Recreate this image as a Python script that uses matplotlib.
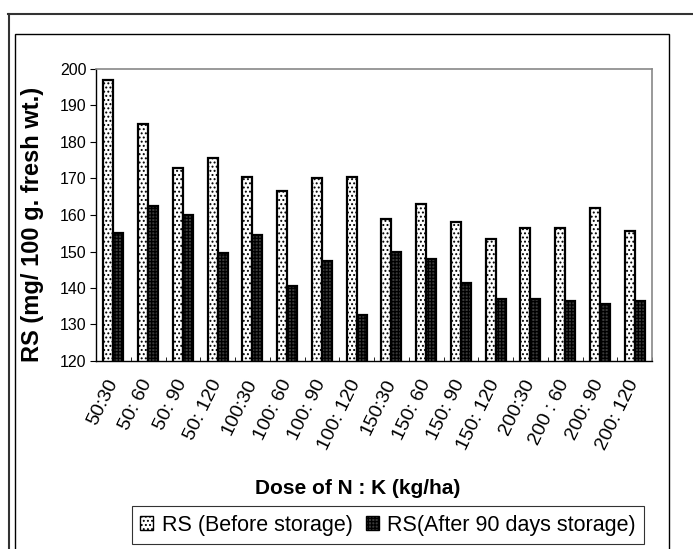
import matplotlib
matplotlib.use("Agg")
import matplotlib.pyplot as plt
import numpy as np
from matplotlib.patches import Rectangle, Patch
from matplotlib.lines import Line2D

plt.rcParams['font.family'] = ['Liberation Sans', 'DejaVu Sans']
plt.rcParams['hatch.linewidth'] = 0.9

doses = ['50:30', '50: 60', '50: 90', '50: 120', '100:30', '100: 60', '100: 90', '100: 120',
         '150:30', '150: 60', '150: 90', '150: 120', '200:30', '200 : 60', '200: 90', '200: 120']
rs_before = [197, 185, 173, 175.5, 170.5, 166.5, 170, 170.5,
             159, 163, 158, 153.5, 156.5, 156.5, 162, 155.5]
rs_after = [155, 162.5, 160, 149.5, 154.5, 140.5, 147.5, 132.5,
            150, 148, 141.5, 137, 137, 136.5, 135.5, 136.5]

fig = plt.figure(figsize=(6.93, 5.49), dpi=100)
W, H = 693, 549

# outer / inner frames like the original Excel export
fig.add_artist(Line2D([8 / W, 1.0], [1 - 14 / H, 1 - 14 / H], color='#333333', lw=1.5))
fig.add_artist(Line2D([9 / W, 9 / W], [0, 1 - 14 / H], color='#333333', lw=1.5))
fig.add_artist(Rectangle((15 / W, -0.01), (669 - 15) / W, 0.01 + (549 - 34) / H,
                         transform=fig.transFigure, fill=False, ec='black', lw=1.0))

ax = fig.add_axes([96 / W, 1 - 361 / H, (652 - 96) / W, (361 - 69) / H])

x = np.arange(len(doses))
w = 0.29
ax.bar(x - w / 2, rs_before, w, color='white', edgecolor='black',
       linewidth=1.6, hatch='....')
ax.bar(x + w / 2, rs_after, w, color='#3a3a3a', edgecolor='black',
       linewidth=1.6, hatch='+++++')

ax.set_ylim(120, 200)
ax.set_xlim(-0.5, len(doses) - 0.5)
ax.set_yticks(np.arange(120, 201, 10))
ax.tick_params(axis='y', labelsize=11.5, length=4, direction='out', pad=3)

ax.set_xticks(x)
ax.set_xticklabels(doses, rotation=64, ha='right', va='center',
                   rotation_mode='anchor', fontsize=14)
ax.tick_params(axis='x', length=0, pad=14)
ax.set_xticks(np.arange(-0.5, len(doses), 1), minor=True)
ax.tick_params(axis='x', which='minor', length=3, direction='in')

for s in ['top', 'right']:
    ax.spines[s].set_color('#888888')
    ax.spines[s].set_linewidth(1.2)
for s in ['left', 'bottom']:
    ax.spines[s].set_color('black')
    ax.spines[s].set_linewidth(1.0)

ax.set_ylabel('RS (mg/ 100 g. fresh wt.)', fontsize=17, fontweight='bold')
ax.yaxis.set_label_coords((44 - 96) / 556, (361 - 224) / 292)
fig.text(358 / W, 1 - 488 / H, 'Dose of N : K (kg/ha)', fontsize=15, fontweight='bold',
         ha='center', va='center')

handles = [Patch(facecolor='white', edgecolor='black', hatch='....', label='RS (Before storage)'),
           Patch(facecolor='#3a3a3a', edgecolor='black', hatch='+++++', label='RS(After 90 days storage)')]
leg = fig.legend(handles=handles, loc='center', bbox_to_anchor=(388 / W, 1 - 525 / H),
                 ncol=2, fontsize=15.5, frameon=True, fancybox=False, edgecolor='black',
                 handlelength=0.6, handleheight=0.6, handletextpad=0.4, columnspacing=0.6,
                 borderpad=0.4)
leg.get_frame().set_linewidth(0.8)

fig.savefig('out.png', dpi=100)
